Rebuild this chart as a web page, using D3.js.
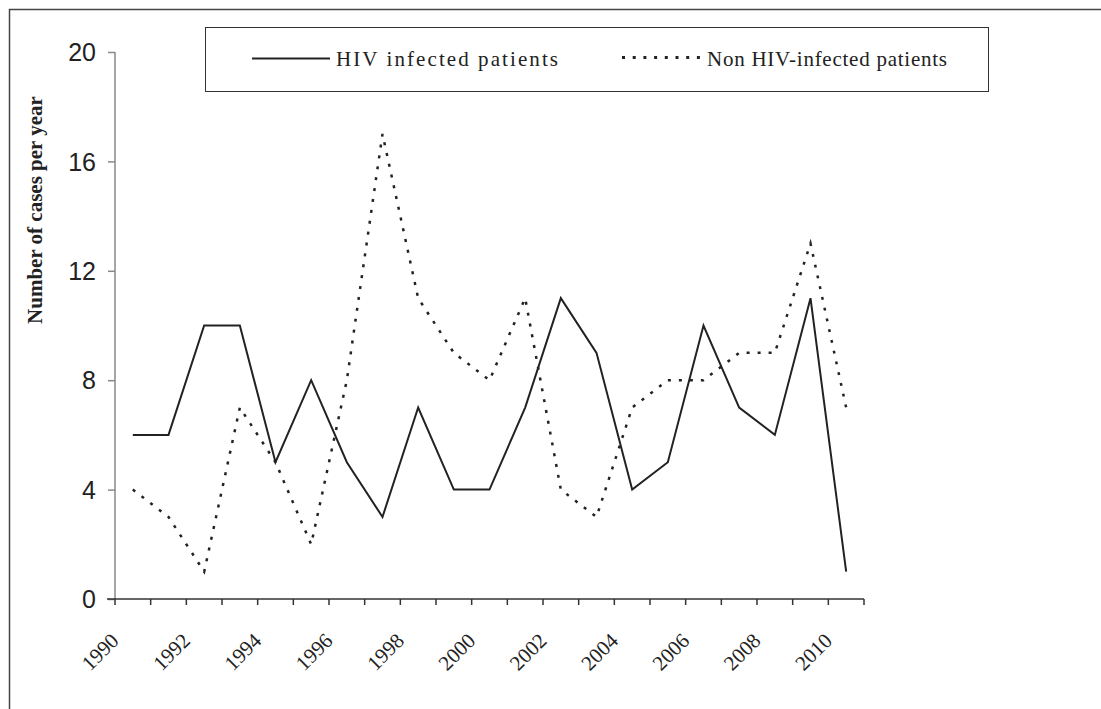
<!DOCTYPE html>
<html>
<head>
<meta charset="utf-8">
<script src="https://cdn.jsdelivr.net/npm/d3@7"></script>
<style>
  html, body { margin: 0; padding: 0; background: #fff; }
  svg { display: block; }
  .serif { font-family: "Liberation Serif", "Times New Roman", Times, serif; }
  .sans { font-family: "Liberation Sans", Arial, Helvetica, sans-serif; }
</style>
</head>
<body>
<svg id="chart" width="1101" height="709"></svg>
<script>
const years = d3.range(1990, 2011).map(String);
const hivInfected = [6, 6, 10, 10, 5, 8, 5, 3, 7, 4, 4, 7, 11, 9, 4, 5, 10, 7, 6, 11, 1];
const nonHivInfected = [4, 3, 1, 7, 5, 2, 8, 17, 11, 9, 8, 11, 4, 3, 7, 8, 8, 9, 9, 13, 7];
const yTicks = [0, 4, 8, 12, 16, 20];
const xTickLabels = ["1990","1992","1994","1996","1998","2000","2002","2004","2006","2008","2010"];
const seriesNames = ["HIV infected patients", "Non HIV-infected patients"];

(function () {
const svg = d3.select("#chart");

// outer frame
svg.append("rect").attr("x", 9.5).attr("y", 9.5).attr("width", 1200).attr("height", 800)
  .attr("fill", "none").attr("stroke", "#444").attr("stroke-width", 1.5);

const pLeft = 115, pRight = 864, pTop = 52, pBottom = 599;
const x = d3.scaleBand().domain(years).range([pLeft, pRight]).paddingInner(0).paddingOuter(0);
const y = d3.scaleLinear().domain([0, 20]).range([pBottom, pTop]);

// y axis
const yAxis = d3.axisLeft(y).tickValues(yTicks).tickSize(7).tickPadding(12);
const gy = svg.append("g").attr("transform", `translate(${pLeft},0)`).call(yAxis);
gy.attr("font-family", null).attr("font-size", null);
gy.select(".domain").attr("stroke", "#888").attr("stroke-width", 1.5).attr("d", `M0,${pTop}V${pBottom}`);
gy.selectAll(".tick line").attr("stroke", "#888").attr("stroke-width", 1.5);
gy.selectAll(".tick text").attr("class", "sans")
  .style("font-size", "25px").attr("fill", "#222").attr("dy", "0.35em");

// x axis
const gx = svg.append("g").attr("transform", `translate(0,${pBottom})`);
gx.append("line").attr("x1", pLeft - 8).attr("x2", pRight).attr("y1", 0).attr("y2", 0)
  .attr("stroke", "#333").attr("stroke-width", 1.5);
const tickPos = years.map(d => x(d)).concat([pRight]);
gx.selectAll("line.tk").data(tickPos).enter().append("line").attr("class", "tk")
  .attr("x1", d => d).attr("x2", d => d).attr("y1", 0).attr("y2", 6)
  .attr("stroke", "#333").attr("stroke-width", 1.5);
gx.selectAll("text.lbl").data(xTickLabels).enter().append("text").attr("class", "lbl serif")
  .attr("text-anchor", "end")
  .attr("transform", d => `translate(${x(d) + 5},${642 - pBottom}) rotate(-45)`)
  .style("font-size", "21px").attr("fill", "#222").text(d => d);

// y title
svg.append("text").attr("class", "serif").attr("transform", `translate(42,210) rotate(-90)`)
  .attr("text-anchor", "middle")
  .style("font-weight", "bold").style("font-size", "21px").attr("fill", "#222")
  .text("Number of cases per year");

// lines
const line = d3.line().x((d, i) => x(years[i]) + x.bandwidth() / 2).y(d => y(d));
svg.append("path").datum(hivInfected).attr("d", line).attr("fill", "none")
  .attr("stroke", "#222").attr("stroke-width", 2).attr("stroke-linejoin", "miter");
svg.append("path").datum(nonHivInfected).attr("d", line).attr("fill", "none")
  .attr("stroke", "#222").attr("stroke-width", 2.5).attr("stroke-dasharray", "3,8");

// legend
svg.append("rect").attr("x", 205.5).attr("y", 27.5).attr("width", 783).attr("height", 64)
  .attr("fill", "#fff").attr("stroke", "#333").attr("stroke-width", 1);
svg.append("line").attr("x1", 252).attr("x2", 330).attr("y1", 58.5).attr("y2", 58.5)
  .attr("stroke", "#222").attr("stroke-width", 2);
svg.append("line").attr("x1", 622).attr("x2", 700).attr("y1", 57.5).attr("y2", 57.5)
  .attr("stroke", "#222").attr("stroke-width", 3).attr("stroke-dasharray", "3,7.7");
svg.append("text").attr("class", "serif").attr("x", 336).attr("y", 66)
  .style("font-size", "21px").attr("fill", "#222").attr("textLength", 222).attr("lengthAdjust", "spacing")
  .text(seriesNames[0]);
svg.append("text").attr("class", "serif").attr("x", 707).attr("y", 66)
  .style("font-size", "21px").attr("fill", "#222").attr("textLength", 240).attr("lengthAdjust", "spacing")
  .text(seriesNames[1]);
})();
</script>
</body>
</html>
